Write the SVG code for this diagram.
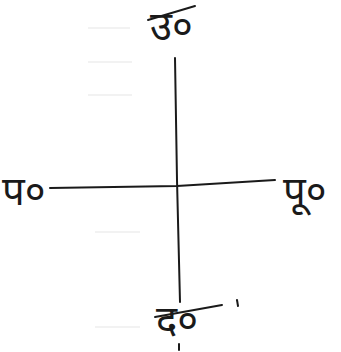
<svg xmlns="http://www.w3.org/2000/svg" width="341" height="352" viewBox="0 0 341 352">
<style>
.ax{stroke:#1a1a1a;stroke-width:2;fill:none;stroke-linecap:round}
.lb{font-family:"Noto Sans Devanagari","Noto Sans","DejaVu Sans",sans-serif;fill:#1a1a1a;font-size:40px}
.faint{stroke:#eeeeee;stroke-width:1.5}
</style>
<rect width="341" height="352" fill="#fff"/>
<g id="noise">
<line class="faint" x1="88" y1="28" x2="130" y2="28"/>
<line class="faint" x1="88" y1="62" x2="132" y2="62"/>
<line class="faint" x1="88" y1="95" x2="132" y2="95"/>
<line class="faint" x1="95" y1="232" x2="140" y2="232"/>
<line class="faint" x1="95" y1="327" x2="140" y2="327"/>
</g>
<g id="connectors">
<path class="ax" d="M175 58 L177 180 L180 302"/>
<path class="ax" d="M50 188 L177 186 L275 180"/>
</g>
<g id="north">
<path class="ax" d="M148 20 L195 6"/>
<text class="lb" x="150" y="40">उ०</text>
</g>
<g id="west">
<text class="lb" x="2" y="205">प०</text>
</g>
<g id="east">
<text class="lb" x="283" y="205">पू०</text>
</g>
<g id="south">
<path class="ax" d="M155 317 L222 305"/>
<path class="ax" d="M237 300 L238 306"/>
<path class="ax" d="M179 344 L179 350"/>
<text class="lb" x="156" y="334">द०</text>
</g>
</svg>
